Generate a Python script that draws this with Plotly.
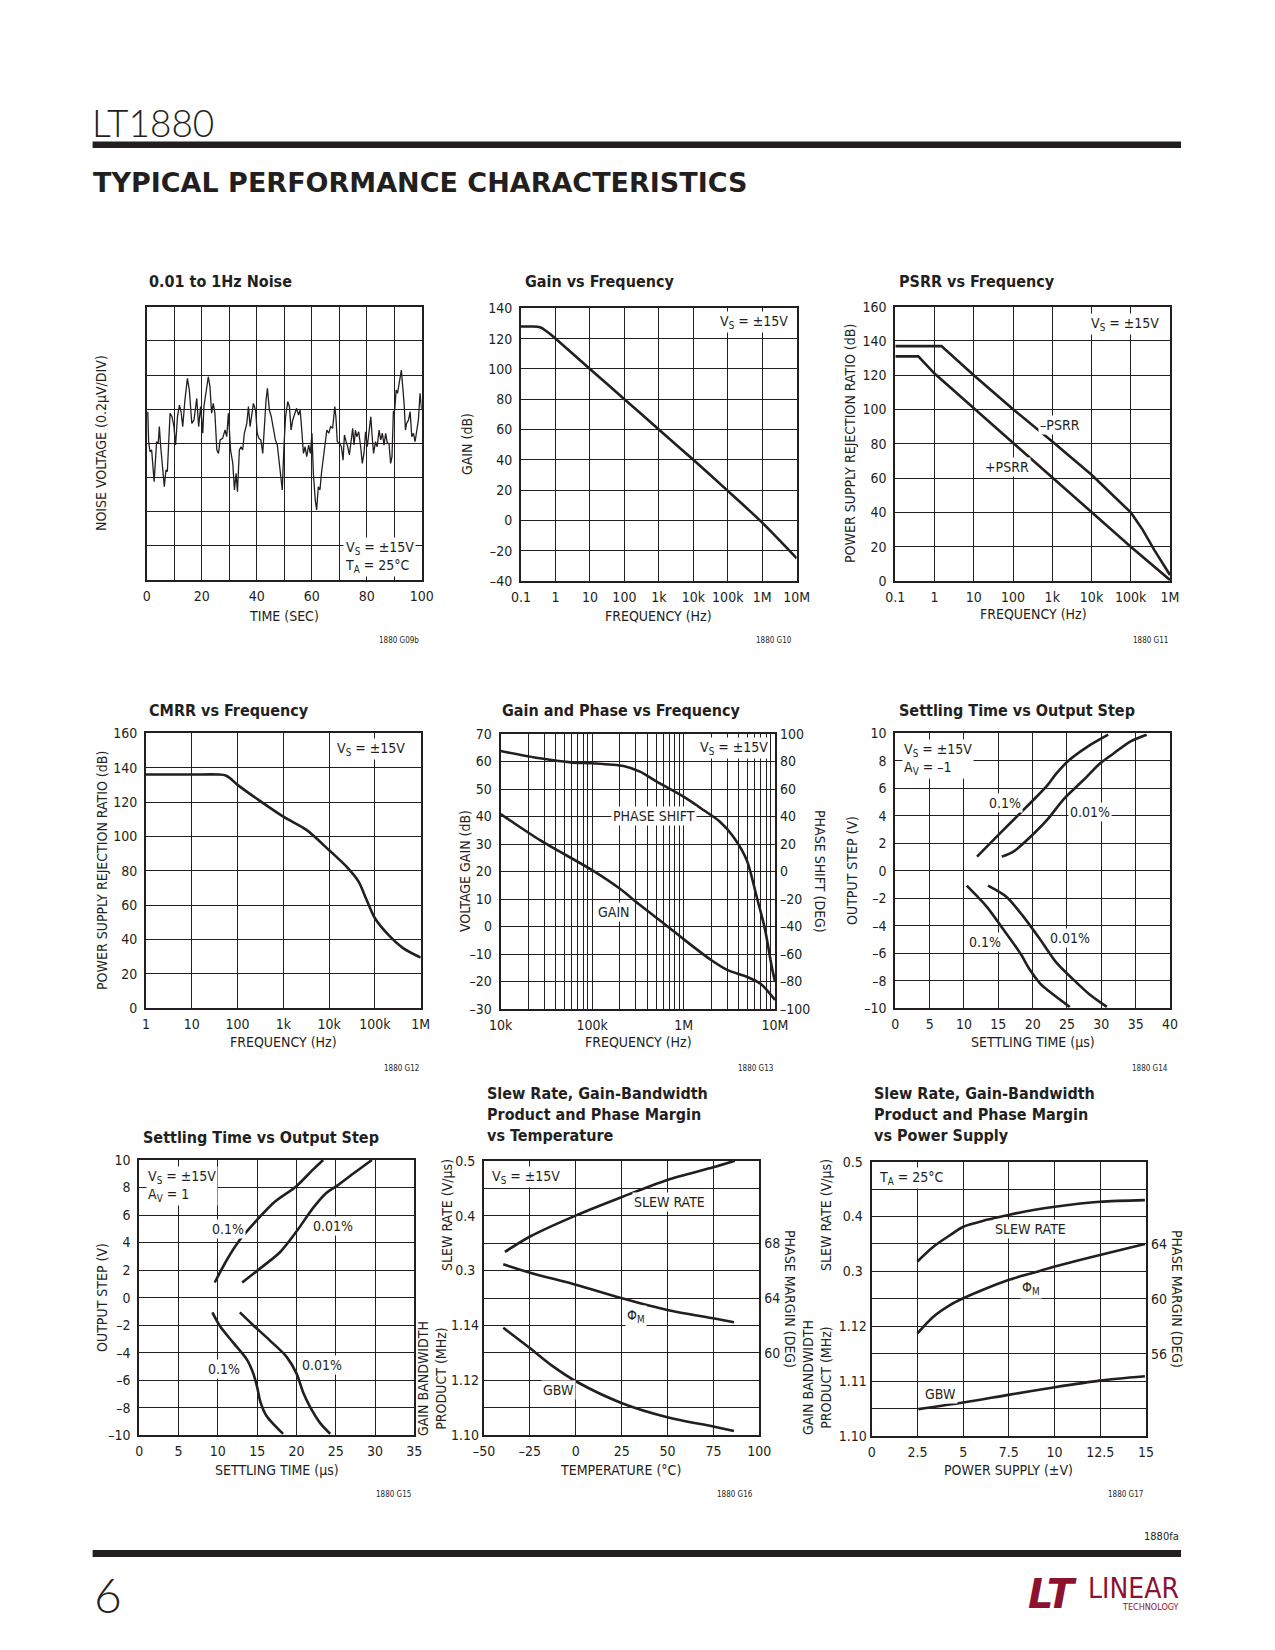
import math
import plotly.graph_objects as go

PAGE_W, PAGE_H = 1275, 1650
OFF = 8  # browser body margin that shifts the figure
FONT = "Liberation Sans Narrow, DejaVu Sans Condensed, Roboto Condensed, Roboto, Arial, sans-serif"
INK = "#231f20"
LOGO_RED = "#8c1230"

# ---------------- data ----------------
# 0.01 to 1Hz noise (time s, voltage uV)
noise_t = [0.4, 0.7, 1.2, 1.8, 2.7, 3.6, 4.2, 4.6, 5.1, 5.8, 6.4, 7.0, 7.5, 8.5, 9.2, 9.9, 10.5, 11.2, 11.9, 12.5,
           13.1, 13.9, 14.8, 15.5, 16.4, 17.2, 18.2, 18.9, 19.6, 20.4, 20.8, 21.6, 22.4, 23.0, 23.6, 24.2, 24.8, 25.5, 26.1, 26.7,
           27.6, 28.5, 29.1, 29.7, 30.5, 31.3, 31.9, 32.5, 33.0, 33.7, 34.3, 34.9, 35.5, 36.4, 37.0, 37.6, 38.2, 38.8, 39.6, 40.2,
           40.8, 41.5, 42.2, 42.9, 43.4, 43.9, 44.6, 45.3, 46.1, 46.8, 47.5, 48.2, 48.7, 49.3, 49.9, 50.5, 51.3, 51.9, 52.5, 53.1,
           53.9, 54.5, 55.2, 55.8, 56.2, 57.0, 57.6, 58.2, 58.9, 59.5, 60.1, 60.6, 61.3, 61.8, 62.4, 63.0, 63.6, 64.2, 65.0, 65.5,
           66.2, 66.9, 67.6, 68.4, 68.8, 69.3, 70.1, 70.8, 71.4, 71.9, 72.5, 73.1, 73.7, 74.3, 74.9, 75.4, 75.9, 76.4, 77.1, 77.8,
           78.4, 79.0, 79.6, 80.2, 80.8, 81.5, 81.9, 82.5, 83.2, 83.8, 84.5, 85.1, 85.7, 86.3, 86.9, 87.5, 88.1, 88.7, 89.2, 89.7,
           90.2, 90.7, 91.2, 91.6, 92.1, 92.6, 93.1, 93.6, 94.1, 94.5, 95.2, 95.8, 96.4, 97.0, 97.6, 98.2, 98.8, 99.4, 100.0]
noise_v = [0.185, 0.010, -0.049, -0.039, -0.224, 0.010, 0.000, 0.098, -0.020, -0.156, -0.254, -0.156, -0.166, 0.176, 0.156, 0.098, -0.010, 0.156, 0.224, 0.185,
           0.098, 0.254, 0.380, 0.312, 0.117, 0.137, 0.263, 0.098, 0.215, 0.059, 0.215, 0.302, 0.390, 0.332, 0.176, 0.234, 0.176, -0.039, -0.059, 0.020,
           0.029, 0.078, 0.039, 0.176, -0.039, -0.117, -0.273, -0.176, -0.283, -0.039, -0.020, -0.039, 0.059, 0.117, 0.215, 0.098, 0.176, 0.234, 0.195, 0.059,
           0.029, 0.020, -0.059, 0.176, 0.254, 0.322, 0.195, 0.156, 0.088, 0.020, -0.010, -0.117, -0.156, -0.273, -0.020, 0.156, 0.244, 0.215, 0.078, 0.137,
           0.176, 0.205, 0.166, 0.195, 0.117, -0.059, -0.020, -0.078, -0.010, -0.059, 0.059, -0.176, -0.332, -0.390, -0.254, -0.273, -0.166, -0.098, 0.000, 0.078,
           0.059, 0.098, 0.088, 0.215, 0.156, 0.010, 0.000, -0.020, -0.098, 0.049, 0.010, -0.020, -0.068, 0.020, 0.088, -0.010, 0.078, 0.039, 0.068, -0.020,
           -0.117, -0.059, 0.068, -0.020, 0.078, 0.156, 0.059, -0.059, 0.010, -0.020, 0.078, 0.020, 0.059, -0.010, 0.059, 0.000, 0.000, -0.117, -0.078, 0.185,
           0.195, 0.312, 0.293, 0.332, 0.371, 0.429, 0.332, 0.234, 0.078, 0.117, 0.137, 0.185, 0.039, 0.059, 0.010, 0.078, 0.137, 0.293, 0.195]

# Gain vs frequency
gain_f = [0.1, 0.2, 0.3, 0.4, 0.5, 0.7, 1, 10, 100, 1e3, 1e4, 1e5, 1e6, 1e7]
gain_db = [128, 128, 127.8, 127, 125.5, 123, 120, 100, 80, 60, 40, 19.5, -1.5, -25]

# PSRR vs frequency
psrr_neg_f = [0.1, 1.5, 10, 100, 1e3, 1e4, 1e5, 2e5, 4e5, 7e5, 1e6]
psrr_neg_db = [137, 137, 120, 100.2, 81.3, 62, 40, 30, 18, 9.3, 3.5]
psrr_pos_f = [0.1, 0.385, 1, 10, 100, 1e3, 1e4, 1e5, 1e6]
psrr_pos_db = [131, 131, 121, 100.8, 80.7, 60, 40, 20, 0.6]

# CMRR vs frequency
cmrr_f = [1, 10, 40, 55, 70, 100, 1e3, 3.2e3, 1e4, 2.4e4, 4.4e4, 6.6e4, 1e5, 2.15e5, 4.2e5, 1e6]
cmrr_db = [136, 136, 136, 135.5, 133.7, 130, 111.5, 103.8, 92, 82.4, 73.7, 63, 52.4, 41.7, 34.9, 29.5]

# Gain and phase vs frequency
gp_f = [1e4, 2.69e4, 1e5, 2e5, 3.34e5, 6.53e5, 1e6, 2e6, 3e6, 5e6, 7e6, 1e7]
gp_gain = [40.9, 31.4, 20.5, 13.8, 7.8, 0.3, -4.6, -12.2, -15.8, -18.4, -20.9, -26.7]
gp_ph_f = [1e4, 2.69e4, 6.2e4, 1e5, 2.2e5, 3.34e5, 5.1e5, 1e6, 1.65e6, 2.5e6, 3.5e6, 4.9e6, 6.3e6, 7.8e6, 9.2e6, 1e7]
gp_phase = [87.6, 82.3, 79.2, 78.7, 76.7, 72.6, 65.3, 54.4, 44.7, 36.2, 25.3, 8.4, -18.3, -42.5, -69, -80]

# Settling time vs output step, AV = -1
st1_up01_t = [11.9, 15.2, 18.2, 20.1, 22.1, 23.5, 25.2, 27.9, 31.0]
st1_up01_v = [1.03, 2.7, 4.2, 5.15, 6.2, 7.1, 8.0, 9.0, 9.9]
st1_up001_t = [15.5, 17.2, 19.1, 22.1, 24.5, 27.4, 29.8, 31.7, 34.2, 36.6]
st1_up001_v = [1.03, 1.4, 2.2, 3.7, 5.2, 6.6, 7.8, 8.5, 9.4, 9.9]
st1_lo01_t = [10.4, 13.3, 15.5, 18.2, 19.6, 21.1, 23.0, 25.4]
st1_lo01_v = [-1.08, -2.6, -4.1, -6.0, -7.2, -8.2, -9.0, -9.9]
st1_lo001_t = [13.5, 16.2, 18.6, 21.1, 23.5, 25.9, 28.3, 30.8]
st1_lo001_v = [-1.08, -1.9, -3.3, -5.0, -6.7, -7.9, -9.0, -9.9]

# Settling time vs output step, AV = 1
st2_up01_t = [9.6, 11.1, 12.8, 14.9, 17.1, 20.0, 22.1, 23.4]
st2_up01_v = [1.1, 2.7, 4.2, 5.6, 6.9, 8.1, 9.3, 10.0]
st2_up001_t = [13.1, 15.1, 17.9, 20.0, 22.1, 23.8, 25.1, 27.2, 29.6]
st2_up001_v = [1.1, 2.0, 3.3, 4.8, 6.5, 7.6, 8.1, 9.0, 10.0]
st2_lo01_t = [9.3, 10.3, 12.0, 13.7, 14.5, 15.0, 15.4, 16.2, 18.3]
st2_lo01_v = [-1.07, -2.1, -3.3, -4.5, -5.5, -6.5, -7.55, -8.6, -9.9]
st2_lo001_t = [12.8, 14.5, 16.6, 18.75, 20.0, 20.9, 21.7, 23.0, 24.3]
st2_lo001_v = [-1.07, -2.0, -3.1, -4.3, -5.5, -6.95, -7.9, -9.1, -9.9]

# Slew rate, GBW, phase margin vs temperature
tmp_sr_t = [-38.6, -24.9, 0.5, 25.2, 49.9, 74.9, 86.7]
tmp_sr = [0.334, 0.362, 0.401, 0.434, 0.465, 0.488, 0.5]
tmp_pm_t = [-39.5, -24.9, 0.5, 25.2, 49.9, 74.9, 86.2]
tmp_pm = [66.45, 65.84, 64.95, 63.98, 63.13, 62.52, 62.23]
tmp_gbw_t = [-39.5, -24.9, -12.2, 0.5, 25.2, 49.9, 74.9, 86.2]
tmp_gbw = [1.1392, 1.1317, 1.125, 1.1195, 1.1117, 1.1066, 1.1032, 1.1016]

# Slew rate, GBW, phase margin vs power supply
ps_v = [2.5, 3.37, 4.28, 5.01, 6.29, 7.47, 8.84, 10.02, 12.48, 14.94]
ps_sr = [0.318, 0.345, 0.366, 0.3815, 0.394, 0.403, 0.412, 0.418, 0.427, 0.430]
ps_pm = [57.48, 58.7, 59.55, 60.04, 60.77, 61.37, 61.9, 62.35, 63.2, 64.0]
ps_gbw_v = [2.55, 5.01, 7.47, 10.02, 12.48, 14.94]
ps_gbw = [1.1049, 1.1061, 1.1075, 1.1089, 1.1101, 1.1109]

# tick labels
freq_labels = {0.1: "0.1", 1: "1", 10: "10", 100: "100", 1e3: "1k", 1e4: "10k", 1e5: "100k", 1e6: "1M", 1e7: "10M"}


# ---------------- helpers ----------------
def px(x):
    return (x - OFF) / PAGE_W


def py(y):
    return 1 - (y - OFF) / PAGE_H


def num(v):
    s = ("%g" % v)
    return s.replace("-", "\u2013")


AX = dict(showgrid=True, gridcolor=INK, gridwidth=1, showline=True, mirror=True, linecolor=INK,
          linewidth=2, ticks="", zeroline=False, automargin=False, fixedrange=True,
          tickfont=dict(family=FONT, size=14, color=INK))


def minor_grid(vals):
    return dict(tickvals=vals, showgrid=True, gridcolor=INK, gridwidth=1, ticks="")


layout = dict(width=PAGE_W, height=PAGE_H, margin=dict(l=0, r=0, t=0, b=0), template="none",
              paper_bgcolor="white", plot_bgcolor="white", showlegend=False, autosize=False)
annotations = []
shapes = []
fig = go.Figure()


def akey(prefix, n):
    return prefix + ("" if n == 1 else str(n))


def set_x(n, x0, x1, rng, tv, tt, yanchor, typ="linear", minor=None):
    d = dict(AX)
    d.update(domain=[px(x0), px(x1)], range=rng, type=typ, tickvals=tv, ticktext=tt,
             anchor=yanchor, ticklabelstandoff=2)
    if minor:
        d["minor"] = minor_grid(minor)
    layout[akey("xaxis", n)] = d


def set_y(n, y0, y1, rng, tv, tt, xanchor, typ="linear", overlay=None, side="left", minor=None,
          labels=True):
    d = dict(AX)
    d.update(domain=[py(y1), py(y0)], range=rng, type=typ, tickvals=tv, ticktext=tt,
             anchor=xanchor, side=side, ticklabelstandoff=4, showticklabels=labels)
    if overlay:
        d.update(overlaying=overlay, showgrid=False, showline=False)
    if minor:
        d["minor"] = minor_grid(minor)
    layout[akey("yaxis", n)] = d


def line(x, y, xa, ya, width=2.6, shape="linear"):
    fig.add_trace(go.Scatter(x=x, y=y, mode="lines", xaxis=xa, yaxis=ya, hoverinfo="skip",
                             line=dict(color=INK, width=width, shape=shape, smoothing=0.8)))


def text(t, x, y, size=14, xanchor="center", yanchor="middle", angle=0, bold=False, family=FONT,
         color=INK, xref="paper", yref="paper", bg=None, align="left", weight=None):
    if xref == "paper":
        x = px(x)
    if yref == "paper":
        y = py(y)
    f = dict(family=family, size=size, color=color)
    if weight:
        f["weight"] = weight
    a = dict(text=("<b>%s</b>" % t) if bold else t, x=x, y=y, xref=xref, yref=yref, showarrow=False,
             xanchor=xanchor, yanchor=yanchor, textangle=angle, font=f, align=align)
    if bg:
        a.update(bgcolor=bg, borderpad=1)
    annotations.append(a)


TITLE_SIZE = 16


def title(t, x, y):
    text(t, x, y, size=TITLE_SIZE, xanchor="left", bold=True, align="left")


def fig_id(t, x, y):
    text(t, x, y, size=8, xanchor="right")


def log_ticks(lo, hi):
    vals, labs = [], []
    e = lo
    while e <= hi:
        v = 10 ** e
        vals.append(v)
        labs.append(freq_labels[round(v, 6) if v < 1 else v])
        e += 1
    return vals, labs


def lin_ticks(lo, hi, step):
    vals, labs = [], []
    n = int(round((hi - lo) / step))
    for i in range(n + 1):
        v = round(lo + i * step, 6)
        vals.append(v)
        labs.append(num(v))
    return vals, labs


# ---------------- header / footer ----------------
text("LT1880", 90, 122, size=37, xanchor="left", family="Lato, Noto Sans, sans-serif", weight=300)
shapes.append(dict(type="rect", xref="paper", yref="paper", x0=px(92.6), x1=px(1181), y0=py(148), y1=py(141.5),
                   fillcolor=INK, line=dict(width=0)))
text("TYPICAL PERFORMANCE CHARACTERISTICS", 91, 182, size=27, xanchor="left", bold=True,
     family="DejaVu Sans, Verdana, sans-serif")

text("1880fa", 1181, 1536, size=11, xanchor="right")
shapes.append(dict(type="rect", xref="paper", yref="paper", x0=px(92.6), x1=px(1181), y0=py(1557), y1=py(1550),
                   fillcolor=INK, line=dict(width=0)))
text("6", 92, 1594, size=48, xanchor="left", family="Lato, Noto Sans, sans-serif", weight=300)
text("<b><i>LT</i></b>", 1052, 1594, size=40, family="DejaVu Sans, sans-serif", color=LOGO_RED)
text("LINEAR", 1181, 1588, size=28, xanchor="right", family=FONT, color=LOGO_RED)
text("TECHNOLOGY", 1181, 1607, size=9, xanchor="right", family=FONT, color=LOGO_RED)

# ---------------- 1: noise ----------------
tv, tt = lin_ticks(0, 100, 20)
set_x(1, 146.7, 421.7, [0, 100], tv, tt, "y", minor=[10, 30, 50, 70, 90])
tv, tt = lin_ticks(-0.8, 0.8, 0.2)
set_y(1, 306.7, 580, [-0.8, 0.8], tv, tt, "x", labels=False)
line(noise_t, noise_v, "x", "y", width=1.3)
title("0.01 to 1Hz Noise", 147, 282)
text("NOISE VOLTAGE (0.2\u03bcV/DIV)", 101, 443, angle=-90)
text("TIME (SEC)", 284, 616)
text("V<sub>S</sub> = \u00b115V<br>T<sub>A</sub> = 25\u00b0C", 97.8, -0.665, xref="x", yref="y",
     xanchor="right", bg="white", size=14)
fig_id("1880 G09b", 421, 640)

# ---------------- 2: gain vs frequency ----------------
tv, tt = log_ticks(-1, 7)
set_x(2, 521, 796.7, [-1, 7], tv, tt, "y2", typ="log")
tv, tt = lin_ticks(-40, 140, 20)
set_y(2, 308.3, 581, [-40, 140], tv, tt, "x2")
line(gain_f, gain_db, "x2", "y2", shape="spline")
title("Gain vs Frequency", 523, 282)
text("GAIN (dB)", 467, 444, angle=-90)
text("FREQUENCY (Hz)", 658, 616)
text("V<sub>S</sub> = \u00b115V", 6.8, 131, xref="x2", yref="y2", xanchor="right", bg="white")
fig_id("1880 G10", 794, 640)

# ---------------- 3: PSRR ----------------
tv, tt = log_ticks(-1, 6)
set_x(3, 895.3, 1170, [-1, 6], tv, tt, "y3", typ="log")
tv, tt = lin_ticks(0, 160, 20)
set_y(3, 306.7, 581, [0, 160], tv, tt, "x3")
line(psrr_neg_f, psrr_neg_db, "x3", "y3")
line(psrr_pos_f, psrr_pos_db, "x3", "y3")
title("PSRR vs Frequency", 897, 282)
text("POWER SUPPLY REJECTION RATIO (dB)", 850, 444, angle=-90)
text("FREQUENCY (Hz)", 1033, 614)
text("V<sub>S</sub> = \u00b115V", 5.78, 150, xref="x3", yref="y3", xanchor="right", bg="white")
text("\u2013PSRR", math.log10(1600), 91, xref="x3", yref="y3", bg="white")
text("+PSRR", math.log10(69), 66.7, xref="x3", yref="y3", bg="white")
fig_id("1880 G11", 1170, 640)

# ---------------- 4: CMRR ----------------
tv, tt = log_ticks(0, 6)
set_x(4, 146, 420.7, [0, 6], tv, tt, "y4", typ="log")
tv, tt = lin_ticks(0, 160, 20)
set_y(4, 733.3, 1008.3, [0, 160], tv, tt, "x4")
line(cmrr_f, cmrr_db, "x4", "y4", shape="spline")
title("CMRR vs Frequency", 147, 710)
text("POWER SUPPLY REJECTION RATIO (dB)", 102, 871, angle=-90)
text("FREQUENCY (Hz)", 283, 1042)
text("V<sub>S</sub> = \u00b115V", 5.7, 151, xref="x4", yref="y4", xanchor="right", bg="white")
fig_id("1880 G12", 421, 1068)

# ---------------- 5: gain and phase ----------------
tv, tt = log_ticks(4, 7)
gp_minor = [m * 10 ** e for e in range(4, 7) for m in range(2, 10)]
set_x(5, 500.7, 775, [4, 7], tv, tt, "y5", typ="log", minor=gp_minor)
tv, tt = lin_ticks(-30, 70, 10)
set_y(5, 734, 1009, [-30, 70], tv, tt, "x5")
tv, tt = lin_ticks(-100, 100, 20)
set_y(6, 734, 1009, [-100, 100], tv, tt, "x5", overlay="y5", side="right")
line(gp_f, gp_gain, "x5", "y5", shape="spline")
line(gp_ph_f, gp_phase, "x5", "y6", shape="spline")
title("Gain and Phase vs Frequency", 500, 710)
text("VOLTAGE GAIN (dB)", 465, 871, angle=-90)
text("PHASE SHIFT (DEG)", 820, 871, angle=90)
text("FREQUENCY (Hz)", 638, 1042)
text("V<sub>S</sub> = \u00b115V", math.log10(8.9e6), 65, xref="x5", yref="y5", xanchor="right", bg="white")
text("PHASE SHIFT", math.log10(4.8e5), 40, xref="x5", yref="y5", bg="white")
text("GAIN", math.log10(1.74e5), 5.4, xref="x5", yref="y5", bg="white")
fig_id("1880 G13", 775, 1068)

# ---------------- 6: settling AV=-1 ----------------
tv, tt = lin_ticks(0, 40, 5)
set_x(6, 895.3, 1170, [0, 40], tv, tt, "y7")
tv, tt = lin_ticks(-10, 10, 2)
set_y(7, 733.3, 1008.3, [-10, 10], tv, tt, "x6")
for xs, ys in [(st1_up01_t, st1_up01_v), (st1_up001_t, st1_up001_v),
               (st1_lo01_t, st1_lo01_v), (st1_lo001_t, st1_lo001_v)]:
    line(xs, ys, "x6", "y7", shape="spline")
title("Settling Time vs Output Step", 897, 710)
text("OUTPUT STEP (V)", 852, 871, angle=-90)
text("SETTLING TIME (\u03bcs)", 1033, 1042)
text("V<sub>S</sub> = \u00b115V<br>A<sub>V</sub> = \u20131", 1.0, 9.6, xref="x6", yref="y7",
     xanchor="left", yanchor="top", bg="white")
text("0.1%", 16.0, 4.9, xref="x6", yref="y7", bg="white")
text("0.01%", 28.4, 4.3, xref="x6", yref="y7", bg="white")
text("0.1%", 13.0, -5.15, xref="x6", yref="y7", bg="white")
text("0.01%", 25.4, -4.9, xref="x6", yref="y7", bg="white")
fig_id("1880 G14", 1170, 1068)

# ---------------- 7: settling AV=1 ----------------
tv, tt = lin_ticks(0, 35, 5)
set_x(7, 139.3, 414.3, [0, 35], tv, tt, "y8")
tv, tt = lin_ticks(-10, 10, 2)
set_y(8, 1160, 1435.3, [-10, 10], tv, tt, "x7")
for xs, ys in [(st2_up01_t, st2_up01_v), (st2_up001_t, st2_up001_v),
               (st2_lo01_t, st2_lo01_v), (st2_lo001_t, st2_lo001_v)]:
    line(xs, ys, "x7", "y8", shape="spline")
title("Settling Time vs Output Step", 141, 1137)
text("OUTPUT STEP (V)", 102, 1298, angle=-90)
text("SETTLING TIME (\u03bcs)", 277, 1470)
text("V<sub>S</sub> = \u00b115V<br>A<sub>V</sub> = 1", 0.9, 9.6, xref="x7", yref="y8",
     xanchor="left", yanchor="top", bg="white")
text("0.1%", 11.3, 5.0, xref="x7", yref="y8", bg="white")
text("0.01%", 24.7, 5.2, xref="x7", yref="y8", bg="white")
text("0.1%", 10.8, -5.2, xref="x7", yref="y8", bg="white")
text("0.01%", 23.3, -4.9, xref="x7", yref="y8", bg="white")
fig_id("1880 G15", 413, 1494)

# ---------------- 8: vs temperature ----------------
tv, tt = lin_ticks(-50, 100, 25)
set_x(8, 484, 759.3, [-50, 100], tv, tt, "y9")
sr_major = [0.3, 0.4, 0.5]
sr_labels = ["0.3", "0.4", "0.5"]
sr_minor = [0, 0.05, 0.1, 0.15, 0.2, 0.25, 0.35, 0.45]
set_y(9, 1160.7, 1435.3, [0, 0.5], sr_major, sr_labels, "x8", minor=sr_minor)
set_y(10, 1160.7, 1435.3, [1.10, 1.20], [1.10, 1.12, 1.14], ["1.10", "1.12", "1.14"], "x8", overlay="y9")
set_y(11, 1160.7, 1435.3, [54, 74], [60, 64, 68], ["60", "64", "68"], "x8", overlay="y9", side="right")
line(tmp_sr_t, tmp_sr, "x8", "y9", shape="spline")
line(tmp_pm_t, tmp_pm, "x8", "y11", shape="spline")
line(tmp_gbw_t, tmp_gbw, "x8", "y10", shape="spline")
text("<b>Slew Rate, Gain-Bandwidth<br>Product and Phase Margin<br>vs Temperature</b>", 485, 1114,
     size=TITLE_SIZE, xanchor="left")
text("SLEW RATE (V/\u03bcs)", 447, 1215, angle=-90)
text("GAIN BANDWIDTH<br>PRODUCT (MHz)", 432, 1378, angle=-90, align="center")
text("PHASE MARGIN (DEG)", 790, 1299, angle=90)
text("TEMPERATURE (\u00b0C)", 620, 1470)
text("V<sub>S</sub> = \u00b115V", -46.5, 0.49, xref="x8", yref="y9", xanchor="left", yanchor="top", bg="white")
text("SLEW RATE", 51.3, 0.424, xref="x8", yref="y9", bg="white")
text("\u03a6<sub>M</sub>", 32.8, 62.7, xref="x8", yref="y11", bg="white")
text("GBW", -9.5, 1.1165, xref="x8", yref="y10", bg="white")
fig_id("1880 G16", 755, 1494)

# ---------------- 9: vs power supply ----------------
tv = [0, 2.5, 5, 7.5, 10, 12.5, 15]
tt = ["0", "2.5", "5", "7.5", "10", "12.5", "15"]
set_x(9, 871.7, 1146, [0, 15], tv, tt, "y12")
set_y(12, 1161.7, 1436, [0, 0.5], sr_major, sr_labels, "x9", minor=sr_minor)
set_y(13, 1161.7, 1436, [1.10, 1.15], [1.10, 1.11, 1.12], ["1.10", "1.11", "1.12"], "x9", overlay="y12")
set_y(14, 1161.7, 1436, [50, 70], [56, 60, 64], ["56", "60", "64"], "x9", overlay="y12", side="right")
line(ps_v, ps_sr, "x9", "y12", shape="spline")
line(ps_v, ps_pm, "x9", "y14", shape="spline")
line(ps_gbw_v, ps_gbw, "x9", "y13", shape="spline")
text("<b>Slew Rate, Gain-Bandwidth<br>Product and Phase Margin<br>vs Power Supply</b>", 872, 1114,
     size=TITLE_SIZE, xanchor="left")
text("SLEW RATE (V/\u03bcs)", 826, 1215, angle=-90)
text("GAIN BANDWIDTH<br>PRODUCT (MHz)", 817, 1378, angle=-90, align="center")
text("PHASE MARGIN (DEG)", 1177, 1299, angle=90)
text("POWER SUPPLY (\u00b1V)", 1008, 1470)
text("T<sub>A</sub> = 25\u00b0C", 0.3, 0.49, xref="x9", yref="y12", xanchor="left", yanchor="top", bg="white")
text("SLEW RATE", 8.66, 0.377, xref="x9", yref="y12", bg="white")
text("\u03a6<sub>M</sub>", 8.71, 60.77, xref="x9", yref="y14", bg="white")
text("GBW", 3.74, 1.1077, xref="x9", yref="y13", bg="white")
fig_id("1880 G17", 1145, 1494)

layout["annotations"] = annotations
layout["shapes"] = shapes
fig.update_layout(**layout)
fig.write_html("out.html")
